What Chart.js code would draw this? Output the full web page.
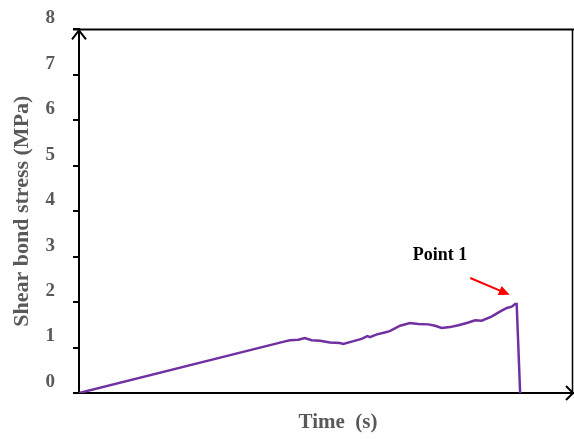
<!DOCTYPE html>
<html>
<head>
<meta charset="utf-8">
<script src="https://cdn.jsdelivr.net/npm/chart.js@4"></script>
<style>
  html, body { margin: 0; padding: 0; background: #fff; }
  canvas { display: block; }
</style>
</head>
<body>
<canvas id="bondChart" width="574" height="439"></canvas>
<script>
// Time values (arbitrary units, axis has no numbers)
const timeVals = [0, 41.5, 42.7, 44.4, 45.7, 47.1, 48.8, 50.8, 52.8, 53.5, 55.2, 57.2, 58.4, 58.9,
  60.3, 61.9, 62.9, 65.0, 67.0, 68.7, 70.7, 72.1, 73.4, 75.1, 76.8, 78.5, 80.2, 81.5,
  83.5, 85.2, 86.6, 87.6, 88.3, 88.6, 89.3];
// Shear bond stress (MPa)
const stressVals = [0, 1.13, 1.16, 1.17, 1.21, 1.16, 1.15, 1.11, 1.10, 1.08, 1.13, 1.19, 1.25, 1.23,
  1.29, 1.33, 1.36, 1.48, 1.54, 1.52, 1.51, 1.48, 1.43, 1.45, 1.49, 1.54, 1.60, 1.59,
  1.68, 1.79, 1.87, 1.90, 1.96, 1.96, 0];
const yTicks = [0, 1, 2, 3, 4, 5, 6, 7, 8];

// annotation: "Point 1" label and red arrow (data coords)
const noteLabel = 'Point 1';
const notePos = [73.1, 3.02];
const arrowFrom = [79.2, 2.53];
const arrowTo = [87.2, 2.16];

const points = timeVals.map((t, i) => ({ x: t, y: stressVals[i] }));

const serif = '"Liberation Serif", "Times New Roman", serif';
const grey = '#595959';

// draws the frame, axis arrows, the annotation and the x title
const extras = {
  id: 'extras',
  afterDraw(chart) {
    const { ctx, chartArea: a, scales } = chart;
    const xs = scales.x, ys = scales.y;
    ctx.save();
    ctx.strokeStyle = '#000';
    // thin right border
    ctx.lineWidth = 1.5;
    ctx.beginPath();
    ctx.moveTo(a.right - 0.5, a.top);
    ctx.lineTo(a.right - 0.5, a.bottom);
    ctx.stroke();
    // top border
    ctx.lineWidth = 2;
    ctx.beginPath();
    ctx.moveTo(a.left - 6, a.top);
    ctx.lineTo(a.right + 1, a.top);
    ctx.stroke();
    // y axis arrow head
    ctx.beginPath();
    ctx.moveTo(a.left - 7, a.top + 10);
    ctx.lineTo(a.left, a.top + 1);
    ctx.lineTo(a.left + 7, a.top + 10);
    ctx.stroke();
    // x axis arrow head
    ctx.beginPath();
    ctx.moveTo(a.right - 7, a.bottom - 7);
    ctx.lineTo(a.right, a.bottom);
    ctx.lineTo(a.right - 7, a.bottom + 7);
    ctx.stroke();

    // red arrow
    const x1 = xs.getPixelForValue(arrowFrom[0]), y1 = ys.getPixelForValue(arrowFrom[1]);
    const x2 = xs.getPixelForValue(arrowTo[0]), y2 = ys.getPixelForValue(arrowTo[1]);
    const ang = Math.atan2(y2 - y1, x2 - x1);
    ctx.strokeStyle = '#ff0000';
    ctx.fillStyle = '#ff0000';
    ctx.lineWidth = 2;
    ctx.beginPath();
    ctx.moveTo(x1, y1);
    ctx.lineTo(x2 - 8 * Math.cos(ang), y2 - 8 * Math.sin(ang));
    ctx.stroke();
    ctx.beginPath();
    ctx.moveTo(x2, y2);
    ctx.lineTo(x2 - 11 * Math.cos(ang) + 5 * Math.sin(ang), y2 - 11 * Math.sin(ang) - 5 * Math.cos(ang));
    ctx.lineTo(x2 - 11 * Math.cos(ang) - 5 * Math.sin(ang), y2 - 11 * Math.sin(ang) + 5 * Math.cos(ang));
    ctx.closePath();
    ctx.fill();

    // label
    ctx.fillStyle = '#000';
    ctx.font = 'bold 18px ' + serif;
    ctx.textAlign = 'center';
    ctx.textBaseline = 'middle';
    ctx.fillText(noteLabel, xs.getPixelForValue(notePos[0]), ys.getPixelForValue(notePos[1]));

    // x title
    ctx.fillStyle = grey;
    ctx.font = 'bold 21px ' + serif;
    ctx.fillText('Time  (s)', 338, 423);
    ctx.restore();
  }
};

new Chart(document.getElementById('bondChart').getContext('2d'), {
  type: 'scatter',
  data: {
    datasets: [{
      data: points,
      showLine: true,
      borderColor: '#7030a0',
      borderWidth: 2.5,
      pointRadius: 0,
      tension: 0
    }]
  },
  options: {
    responsive: false,
    animation: false,
    layout: { padding: { left: 0, top: 27, right: 1, bottom: 0 } },
    plugins: { legend: { display: false }, tooltip: { enabled: false } },
    scales: {
      x: {
        type: 'linear',
        min: 0,
        max: 100,
        grid: { display: false },
        border: { display: true, color: '#000', width: 2 },
        ticks: { display: false },
        afterFit(scale) { scale.height = 46; }
      },
      y: {
        min: 0,
        max: 8,
        afterBuildTicks(scale) { scale.ticks = yTicks.map(v => ({ value: v })); },
        grid: { drawOnChartArea: false, drawTicks: true, tickLength: 6, color: '#000', lineWidth: 2 },
        border: { display: true, color: '#000', width: 2 },
        ticks: {
          color: grey,
          font: { family: serif, size: 19, weight: 'bold' },
          padding: 18,
          labelOffset: -11
        },
        title: {
          display: true,
          text: 'Shear bond stress (MPa)',
          color: grey,
          font: { family: serif, size: 22, weight: 'bold' },
          padding: { top: 9, bottom: 0 }
        },
        afterFit(scale) { scale.width = 79; }
      }
    }
  },
  plugins: [extras]
});
</script>
</body>
</html>
